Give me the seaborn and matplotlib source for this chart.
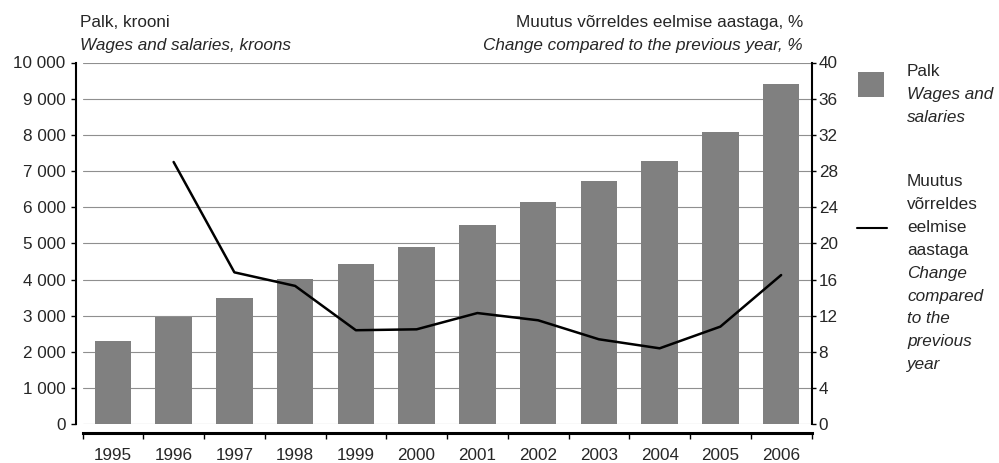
import numpy as np
import pandas as pd
import matplotlib
matplotlib.use("Agg")
import matplotlib.pyplot as plt
from matplotlib.patches import Rectangle
from matplotlib.lines import Line2D
import seaborn as sns

years = ["1995", "1996", "1997", "1998", "1999", "2000",
         "2001", "2002", "2003", "2004", "2005", "2006"]
wages = [2309, 2972, 3490, 4014, 4428, 4898, 5514, 6141, 6721, 7274, 8075, 9400]
change = [np.nan, 29.0, 16.8, 15.3, 10.4, 10.5, 12.3, 11.5, 9.4, 8.4, 10.8, 16.5]
left_ticks = [0, 1000, 2000, 3000, 4000, 5000, 6000, 7000, 8000, 9000, 10000]
left_labels = ["0", "1 000", "2 000", "3 000", "4 000", "5 000", "6 000",
               "7 000", "8 000", "9 000", "10 000"]
right_ticks = [0, 4, 8, 12, 16, 20, 24, 28, 32, 36, 40]

title_left = ["Palk, krooni", "Wages and salaries, kroons"]
title_right = ["Muutus võrreldes eelmise aastaga, %",
               "Change compared to the previous year, %"]
legend_bar = [("Palk", False), ("Wages and", True), ("salaries", True)]
legend_line = [("Muutus", False), ("võrreldes", False), ("eelmise", False),
               ("aastaga", False), ("Change", True), ("compared", True),
               ("to the", True), ("previous", True), ("year", True)]

BAR = "#808080"
GRID = "#8f8f8f"
FS = 12.3

sns.set_style("white")
plt.rcParams["font.family"] = ["Liberation Sans", "DejaVu Sans"]
plt.rcParams["font.size"] = FS

df = pd.DataFrame({"year": years, "wage": wages, "change": change,
                   "pos": np.arange(len(years))})

W, H = 999, 463
fig = plt.figure(figsize=(W / 100, H / 100), dpi=100)
def fx(px): return px / W
def fy(py): return 1 - py / H

x0, x1, ytop, ybot = 82.5, 811.5, 62.5, 424.3
ax = fig.add_axes([fx(x0), fy(ybot), fx(x1) - fx(x0), fy(ytop) - fy(ybot)])

sns.barplot(data=df, x="year", y="wage", color=BAR, saturation=1,
            width=0.6, linewidth=0, ax=ax)
ax.set_axisbelow(True)
ax.set_ylim(0, 10000)
ax.set_yticks(left_ticks)
ax.set_yticklabels(left_labels)
ax.yaxis.grid(True, color=GRID, lw=0.8)
ax.set_xlim(-0.5, len(years) - 0.5)
ax.set_xlabel("")
ax.set_ylabel("")

for s in ["top", "right"]:
    ax.spines[s].set_visible(False)
ax.spines["left"].set_position(("outward", 4.5))
ax.spines["left"].set_linewidth(1.5)
ax.spines["left"].set_color("black")
ax.spines["bottom"].set_position(("outward", 6))
ax.spines["bottom"].set_linewidth(2.2)
ax.spines["bottom"].set_color("black")
ax.tick_params(axis="y", left=True, direction="out", length=3.6, width=1,
               color="black", pad=4, labelsize=FS)
ax.tick_params(axis="x", which="major", bottom=False, length=0, pad=11,
               labelsize=FS)
ax.set_xticks(np.arange(-0.5, len(years), 1.0), minor=True)
ax.tick_params(axis="x", which="minor", bottom=True, direction="out",
               length=4.3, width=1, color="black")

ax2 = ax.twinx()
sns.lineplot(data=df, x="pos", y="change", color="black", lw=1.8, ax=ax2)
ax2.set_ylim(0, 40)
ax2.set_yticks(right_ticks)
ax2.set_xlim(-0.5, len(years) - 0.5)
ax2.set_xlabel("")
ax2.set_ylabel("")
ax2.grid(False)
for s in ["top", "left", "bottom"]:
    ax2.spines[s].set_visible(False)
ax2.spines["right"].set_linewidth(1.5)
ax2.spines["right"].set_color("black")
ax2.tick_params(axis="y", right=True, direction="out", length=3.2, width=1,
                color="black", pad=2, labelsize=FS)

# titles
fig.text(fx(80), fy(27), title_left[0], ha="left", va="baseline", fontsize=FS)
fig.text(fx(80), fy(50), title_left[1], ha="left", va="baseline", fontsize=FS,
         style="italic")
fig.text(fx(803), fy(27), title_right[0], ha="right", va="baseline", fontsize=FS)
fig.text(fx(803), fy(50), title_right[1], ha="right", va="baseline", fontsize=FS,
         style="italic")

# legend
fig.add_artist(Rectangle((fx(858), fy(97)), fx(884) - fx(858), fy(72) - fy(97),
                         transform=fig.transFigure, color=BAR, lw=0))
fig.add_artist(Line2D([fx(857), fx(887)], [fy(228), fy(228)],
                      transform=fig.transFigure, color="black", lw=1.5))
step = 22.9
for i, (t, it) in enumerate(legend_bar):
    fig.text(fx(907), fy(76 + i * step), t, ha="left", va="baseline",
             fontsize=FS, style="italic" if it else "normal")
for i, (t, it) in enumerate(legend_line):
    fig.text(fx(907), fy(186 + i * step), t, ha="left", va="baseline",
             fontsize=FS, style="italic" if it else "normal")

fig.savefig("out.png", dpi=100)
